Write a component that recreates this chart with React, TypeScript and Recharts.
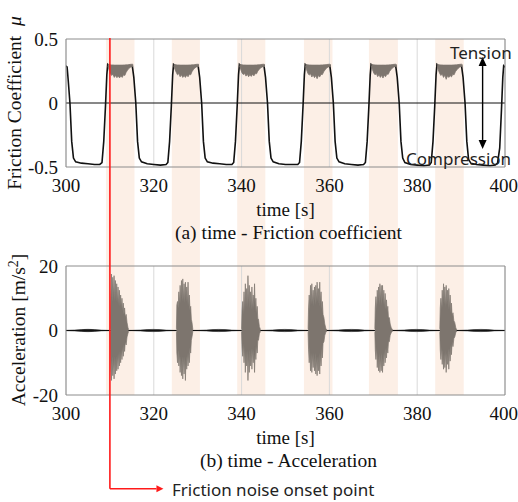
import React from "react";
import {
  ComposedChart,
  Line,
  Area,
  XAxis,
  YAxis,
  CartesianGrid,
  ReferenceArea,
  ReferenceLine,
} from "recharts";

// Two stacked panels: (a) friction coefficient and (b) acceleration over time,
// with the squeal windows shaded and the onset of friction noise marked in red.

const SERIF = '"Liberation Serif", "Times New Roman", serif';
const SANS = '"Noto Sans", "Open Sans", sans-serif';

const INK = "#111111";
const NOISE = "#7d756e";
const BAND = "#fcefe6";
const FRAME = "#8c8c8c";
const RED = "#ff1a1a";

const timeTicks = [300, 320, 340, 360, 380, 400];
const frictionTicks = [-0.5, 0, 0.5];
const accelTicks = [-20, 0, 20];

// shaded squeal windows [start, end] in s
const noiseBands: [number, number][] = [
  [309.1, 315.6],
  [324.1, 330.5],
  [339.0, 345.4],
  [354.2, 360.7],
  [369.0, 375.6],
  [384.1, 390.6],
];

const onsetTime = 310;

// friction coefficient trace [t, mu]
const frictionTrace: [number, number][] = [
  [300.0, 0.29], [300.25, 0.28], [300.5, 0.18], [300.9, 0.0], [301.3, -0.3], [301.7, -0.43],
  [302.2, -0.46], [303.5, -0.47], [305.0, -0.475], [306.5, -0.48], [307.7, -0.48], [308.2, -0.465],
  [308.6, -0.3], [309.0, -0.02], [309.3, 0.22], [309.5, 0.3], [309.8, 0.29], [315.1, 0.29], [315.45, 0.2],
  [315.9, 0.0], [316.3, -0.3], [316.7, -0.43], [317.2, -0.46], [318.5, -0.475], [320.0, -0.48],
  [321.5, -0.485], [322.8, -0.48], [323.2, -0.465], [323.6, -0.3], [324.0, -0.02], [324.3, 0.22],
  [324.5, 0.3], [324.8, 0.29], [330.1, 0.29], [330.45, 0.2],
  [330.9, 0.0], [331.3, -0.3], [331.7, -0.43], [332.2, -0.46], [333.5, -0.47], [335.0, -0.475],
  [336.5, -0.48], [337.8, -0.48], [338.2, -0.465], [338.6, -0.3], [339.0, -0.02], [339.3, 0.22],
  [339.5, 0.3], [339.8, 0.29], [345.1, 0.29], [345.45, 0.2],
  [345.9, 0.0], [346.3, -0.3], [346.7, -0.43], [347.2, -0.46], [348.5, -0.475], [350.0, -0.48],
  [351.5, -0.48], [352.8, -0.48], [353.2, -0.465], [353.6, -0.3], [354.0, -0.02], [354.3, 0.22],
  [354.5, 0.3], [354.8, 0.29], [360.1, 0.29], [360.45, 0.2],
  [360.9, 0.0], [361.3, -0.3], [361.7, -0.43], [362.2, -0.46], [363.5, -0.475], [365.0, -0.48],
  [366.5, -0.485], [367.8, -0.48], [368.2, -0.465], [368.6, -0.3], [369.0, -0.02], [369.3, 0.22],
  [369.5, 0.3], [369.8, 0.29], [375.1, 0.29], [375.45, 0.2],
  [375.9, 0.0], [376.3, -0.3], [376.7, -0.43], [377.2, -0.465], [378.5, -0.48], [380.0, -0.485],
  [381.5, -0.49], [382.8, -0.485], [383.2, -0.465], [383.6, -0.3], [384.0, -0.02], [384.3, 0.22],
  [384.5, 0.3], [384.8, 0.29], [390.1, 0.29], [390.45, 0.2],
  [390.9, 0.0], [391.3, -0.3], [391.7, -0.44], [392.2, -0.47], [393.5, -0.48], [395.0, -0.485],
  [396.5, -0.49], [397.8, -0.485], [398.3, -0.47], [398.8, -0.35], [399.2, -0.05], [399.5, 0.2],
  [399.7, 0.29], [400.0, 0.28],
];

// grey stick-slip noise on the tension plateaus [t, low, high]
const frictionNoise1: [number, number, number][] = [
  [309.55, 0.29, 0.305], [309.8, 0.26, 0.3], [310.1, 0.23, 0.298], [310.4, 0.215, 0.297], [310.7, 0.225, 0.297],
  [311.0, 0.2, 0.296], [311.3, 0.215, 0.296], [311.6, 0.198, 0.296], [311.9, 0.21, 0.296], [312.2, 0.196, 0.296],
  [312.5, 0.212, 0.296], [312.8, 0.2, 0.296], [313.1, 0.22, 0.297], [313.4, 0.215, 0.297], [313.7, 0.24, 0.298],
  [314.0, 0.255, 0.298], [314.3, 0.27, 0.3], [314.7, 0.28, 0.302], [315.1, 0.285, 0.303], [315.3, 0.285, 0.3],
];
const frictionNoise2: [number, number, number][] = [
  [324.55, 0.29, 0.305], [324.8, 0.265, 0.3], [325.1, 0.24, 0.298], [325.4, 0.22, 0.297], [325.7, 0.23, 0.297],
  [326.0, 0.205, 0.296], [326.3, 0.22, 0.296], [326.6, 0.2, 0.296], [326.9, 0.215, 0.296], [327.2, 0.2, 0.296],
  [327.5, 0.218, 0.296], [327.8, 0.205, 0.296], [328.1, 0.225, 0.297], [328.4, 0.22, 0.297], [328.7, 0.245, 0.298],
  [329.0, 0.26, 0.298], [329.3, 0.272, 0.3], [329.7, 0.282, 0.302], [330.1, 0.286, 0.303], [330.3, 0.285, 0.3],
];
const frictionNoise3: [number, number, number][] = [
  [339.55, 0.29, 0.305], [339.8, 0.262, 0.3], [340.1, 0.235, 0.298], [340.4, 0.222, 0.297], [340.7, 0.23, 0.297],
  [341.0, 0.21, 0.296], [341.3, 0.225, 0.296], [341.6, 0.205, 0.296], [341.9, 0.222, 0.296], [342.2, 0.208, 0.296],
  [342.5, 0.225, 0.296], [342.8, 0.212, 0.296], [343.1, 0.23, 0.297], [343.4, 0.228, 0.297], [343.7, 0.25, 0.298],
  [344.0, 0.262, 0.298], [344.3, 0.274, 0.3], [344.7, 0.282, 0.302], [345.1, 0.286, 0.303], [345.3, 0.285, 0.3],
];
const frictionNoise4: [number, number, number][] = [
  [354.55, 0.29, 0.305], [354.8, 0.26, 0.3], [355.1, 0.232, 0.298], [355.4, 0.218, 0.297], [355.7, 0.228, 0.297],
  [356.0, 0.203, 0.296], [356.3, 0.22, 0.296], [356.6, 0.198, 0.296], [356.9, 0.214, 0.296], [357.2, 0.19, 0.296],
  [357.5, 0.214, 0.296], [357.8, 0.204, 0.296], [358.1, 0.224, 0.297], [358.4, 0.222, 0.297], [358.7, 0.244, 0.298],
  [359.0, 0.258, 0.298], [359.3, 0.271, 0.3], [359.7, 0.281, 0.302], [360.1, 0.286, 0.303], [360.3, 0.285, 0.3],
];
const frictionNoise5: [number, number, number][] = [
  [369.55, 0.29, 0.305], [369.8, 0.262, 0.3], [370.1, 0.235, 0.298], [370.4, 0.22, 0.297], [370.7, 0.23, 0.297],
  [371.0, 0.206, 0.296], [371.3, 0.222, 0.296], [371.6, 0.2, 0.296], [371.9, 0.216, 0.296], [372.2, 0.195, 0.296],
  [372.5, 0.216, 0.296], [372.8, 0.206, 0.296], [373.1, 0.226, 0.297], [373.4, 0.224, 0.297], [373.7, 0.246, 0.298],
  [374.0, 0.26, 0.298], [374.3, 0.272, 0.3], [374.7, 0.282, 0.302], [375.1, 0.286, 0.303], [375.3, 0.285, 0.3],
];
const frictionNoise6: [number, number, number][] = [
  [384.55, 0.29, 0.305], [384.8, 0.26, 0.3], [385.1, 0.232, 0.298], [385.4, 0.215, 0.297], [385.7, 0.226, 0.297],
  [386.0, 0.2, 0.296], [386.3, 0.218, 0.296], [386.6, 0.185, 0.296], [386.9, 0.212, 0.296], [387.2, 0.2, 0.296],
  [387.5, 0.214, 0.296], [387.8, 0.204, 0.296], [388.1, 0.224, 0.297], [388.4, 0.22, 0.297], [388.7, 0.244, 0.298],
  [389.0, 0.258, 0.298], [389.3, 0.27, 0.3], [389.7, 0.281, 0.302], [390.1, 0.286, 0.303], [390.3, 0.285, 0.3],
];
const frictionNoise = [frictionNoise1, frictionNoise2, frictionNoise3, frictionNoise4, frictionNoise5, frictionNoise6];

// acceleration: zero baseline, quiet low-level vibration, and squeal bursts [t, low, high]
const accelBaseline: [number, number][] = [
  [300, 0],
  [400, 0],
];

const accelQuiet: [number, number, number][] = [
  [300, -0.05, 0.05], [302, -0.15, 0.15], [303.5, -0.28, 0.28], [305, -0.36, 0.36], [306.5, -0.28, 0.28], [308, -0.12, 0.12], [309.5, -0.05, 0.05],
  [315, -0.05, 0.05], [317, -0.15, 0.15], [318.5, -0.28, 0.28], [319.8, -0.34, 0.34], [321.2, -0.28, 0.28], [322.8, -0.12, 0.12], [324.5, -0.05, 0.05],
  [330, -0.05, 0.05], [332, -0.15, 0.15], [333.5, -0.28, 0.28], [334.8, -0.34, 0.34], [336.2, -0.28, 0.28], [337.8, -0.12, 0.12], [339.5, -0.05, 0.05],
  [345, -0.05, 0.05], [347, -0.15, 0.15], [348.5, -0.28, 0.28], [349.8, -0.34, 0.34], [351.2, -0.28, 0.28], [352.8, -0.12, 0.12], [354.5, -0.05, 0.05],
  [360, -0.05, 0.05], [362, -0.15, 0.15], [363.5, -0.28, 0.28], [365, -0.34, 0.34], [366.5, -0.28, 0.28], [368, -0.12, 0.12], [369.8, -0.05, 0.05],
  [375, -0.05, 0.05], [377, -0.15, 0.15], [378.5, -0.28, 0.28], [379.8, -0.34, 0.34], [381.2, -0.28, 0.28], [382.8, -0.12, 0.12], [384.6, -0.05, 0.05],
  [389.5, -0.05, 0.05], [391.5, -0.15, 0.15], [393, -0.28, 0.28], [394.5, -0.34, 0.34], [396, -0.28, 0.28], [397.5, -0.12, 0.12], [400, -0.05, 0.05],
];

const burst1: [number, number, number][] = [
  [310.1, -0.5, 0.5], [310.2, -12, 10], [310.35, -15.5, 17.5], [310.5, -8, 9], [310.65, -14, 16.5], [310.8, -9, 10],
  [310.95, -15, 17], [311.1, -8, 9], [311.25, -13.5, 15.5], [311.4, -8, 9], [311.55, -12.5, 14.5], [311.7, -7.5, 8.5],
  [311.85, -12, 13.5], [312.0, -7, 8], [312.15, -11, 12.5], [312.3, -6.5, 7.5], [312.45, -10, 11], [312.6, -6, 7],
  [312.75, -9, 10], [312.9, -5, 6], [313.05, -8, 8.5], [313.2, -4.5, 5], [313.35, -6.5, 7], [313.5, -3.5, 4],
  [313.7, -4.5, 5], [313.9, -2, 2.5], [314.1, -1, 1], [314.25, -0.3, 0.3],
];
const burst2: [number, number, number][] = [
  [325.15, -0.5, 0.5], [325.25, -7, 8], [325.4, -10, 9], [325.55, -6, 7], [325.7, -11, 12], [325.85, -7, 8],
  [326.0, -13, 14], [326.15, -8, 8.5], [326.3, -14, 15.5], [326.45, -8, 9], [326.6, -15, 16], [326.75, -8, 9],
  [326.9, -13.5, 14.5], [327.05, -8, 8.5], [327.2, -15.5, 15], [327.35, -8, 9], [327.5, -12, 13.5], [327.65, -7, 8],
  [327.8, -11, 15], [327.95, -7, 7.5], [328.1, -10, 11], [328.25, -5, 6], [328.4, -7, 7.5], [328.55, -3, 3.5],
  [328.7, -2, 2.5], [328.9, -0.3, 0.3],
];
const burst3: [number, number, number][] = [
  [340.0, -0.5, 0.5], [340.1, -5, 6], [340.25, -8, 9], [340.4, -4, 5], [340.55, -10, 12], [340.7, -5, 6],
  [340.85, -13, 14.5], [341.0, -6, 7], [341.15, -11, 13], [341.3, -6, 7], [341.45, -15.5, 17], [341.6, -7, 8],
  [341.75, -13, 14], [341.9, -6, 7], [342.05, -11, 12], [342.2, -5.5, 6.5], [342.35, -12, 13.5], [342.5, -5.5, 6.5],
  [342.65, -10, 11], [342.8, -6, 7], [342.95, -13, 14.5], [343.1, -5, 6], [343.25, -9, 10], [343.4, -4.5, 5],
  [343.55, -7, 7.5], [343.7, -3, 3.5], [343.85, -3, 3.5], [344.05, -1, 1.2], [344.3, -0.3, 0.3],
];
const burst4: [number, number, number][] = [
  [355.15, -0.5, 0.5], [355.25, -6, 7], [355.4, -10, 11], [355.55, -5, 6], [355.7, -12.5, 14], [355.85, -7, 8],
  [356.0, -13, 14.5], [356.15, -7, 8], [356.3, -11.5, 12.5], [356.45, -7, 7.5], [356.6, -12.5, 13.5], [356.75, -7, 8],
  [356.9, -13.5, 14], [357.05, -8, 8.5], [357.2, -14, 15], [357.35, -8, 9], [357.5, -12.5, 13], [357.65, -7, 7.5],
  [357.8, -13.5, 15], [357.95, -7, 8], [358.1, -11, 12], [358.25, -5.5, 6.5], [358.4, -8.5, 9], [358.55, -4, 5],
  [358.75, -3.5, 4], [358.95, -1.5, 2], [359.2, -0.5, 0.6], [359.4, -0.2, 0.2],
];
const burst5: [number, number, number][] = [
  [370.35, -0.5, 0.5], [370.45, -6, 7], [370.6, -9, 10.5], [370.75, -5, 6], [370.9, -11.5, 12.5], [371.05, -7, 8],
  [371.2, -12.5, 13.5], [371.35, -7, 8], [371.5, -13, 14.5], [371.65, -8, 9], [371.8, -12.5, 14], [371.95, -7, 8],
  [372.1, -13, 14], [372.25, -7, 8], [372.4, -11, 12.5], [372.55, -6, 7], [372.7, -10, 11.5], [372.85, -5.5, 6.5],
  [373.0, -8.5, 9.5], [373.15, -4.5, 5.5], [373.3, -7, 7.5], [373.45, -3.5, 4], [373.65, -3.5, 4], [373.85, -1.5, 2],
  [374.1, -0.6, 0.8], [374.4, -0.2, 0.2],
];
const burst6: [number, number, number][] = [
  [385.15, -0.5, 0.5], [385.25, -6, 7], [385.4, -9, 10], [385.55, -5, 6.5], [385.7, -10.5, 12.5], [385.85, -6, 7],
  [386.0, -12, 14.5], [386.15, -7, 8], [386.3, -11.5, 13.5], [386.45, -6, 7], [386.6, -13, 14], [386.75, -7, 8],
  [386.9, -10.5, 12.5], [387.05, -5.5, 6.5], [387.2, -12, 13], [387.35, -5.5, 6.5], [387.5, -9.5, 11], [387.65, -4.5, 5.5],
  [387.8, -7.5, 8.5], [387.95, -3.5, 4.5], [388.15, -5, 5.5], [388.35, -2.5, 3], [388.55, -2, 2.5], [388.8, -0.6, 0.8],
  [389.0, -0.2, 0.2],
];
const accelBursts = [burst1, burst2, burst3, burst4, burst5, burst6];

const toLine = (rows: [number, number][]) => rows.map(([t, v]) => ({ t, v }));
const toRange = (rows: [number, number, number][]) => rows.map(([t, lo, hi]) => ({ t, v: [lo, hi] }));

const tickStyle = { fontSize: 19, fill: INK, fontFamily: SERIF };

// vertical double arrow between "Tension" and "Compression"
function DoubleArrow(p: any) {
  const x = p.x1;
  const top = Math.min(p.y1, p.y2);
  const bot = Math.max(p.y1, p.y2);
  const h = 9;
  const w = 4;
  return (
    <g>
      <line x1={x} y1={top + h} x2={x} y2={bot - h} stroke="#000" strokeWidth={1.4} />
      <path d={`M${x},${top} L${x - w},${top + h} L${x + w},${top + h} Z`} fill="#000" />
      <path d={`M${x},${bot} L${x - w},${bot - h} L${x + w},${bot - h} Z`} fill="#000" />
    </g>
  );
}

// red leader ending in an arrowhead pointing right
function RedArrow(p: any) {
  const tip = Math.max(p.x1, p.x2);
  const y = p.y1;
  const h = 7;
  const w = 3.5;
  return (
    <g>
      <line x1={Math.min(p.x1, p.x2)} y1={y} x2={tip - h} y2={y} stroke={RED} strokeWidth={1.5} />
      <path d={`M${tip},${y} L${tip - h},${y - w} L${tip - h},${y + w} Z`} fill={RED} />
    </g>
  );
}

const textBase: React.CSSProperties = {
  position: "absolute",
  whiteSpace: "nowrap",
  color: INK,
  lineHeight: "18px",
};

export default function App() {
  return (
    <div
      style={{
        position: "absolute",
        left: 0,
        top: 0,
        width: 518,
        height: 502,
        background: "#fff",
        overflow: "hidden",
      }}
    >
      {/* (a) friction coefficient, also carries the shaded windows across both panels */}
      <div style={{ position: "absolute", left: 0, top: 0 }}>
        <ComposedChart width={518} height={502} margin={{ top: 39, right: 13, bottom: 305, left: 0 }}>
          {noiseBands.map(([a, b]) => (
            <ReferenceArea
              key={a}
              x1={a}
              x2={b}
              y1={-2.281}
              y2={0.5}
              ifOverflow="visible"
              fill={BAND}
              fillOpacity={1}
              stroke="none"
              zIndex={-150}
            />
          ))}
          <CartesianGrid horizontal={false} stroke="#d9d9d9" />
          <XAxis
            dataKey="t"
            type="number"
            domain={[300, 400]}
            ticks={timeTicks}
            allowDataOverflow
            axisLine={false}
            tickLine={false}
            tickSize={0}
            tickMargin={12}
            height={30}
            tick={tickStyle}
          />
          <YAxis
            type="number"
            domain={[-0.5, 0.5]}
            ticks={frictionTicks}
            allowDataOverflow
            axisLine={false}
            tickLine={false}
            tickSize={0}
            tickMargin={8}
            width={66}
            tick={tickStyle}
          />
          <ReferenceLine y={0} stroke={INK} strokeWidth={1} />
          <Line
            data={toLine(frictionTrace)}
            dataKey="v"
            type="linear"
            stroke={INK}
            strokeWidth={1.6}
            dot={false}
            isAnimationActive={false}
          />
          {frictionNoise.map((rows, i) => (
            <Area
              key={i}
              data={toRange(rows)}
              dataKey="v"
              type="linear"
              stroke={NOISE}
              strokeWidth={0.8}
              fill={NOISE}
              fillOpacity={1}
              dot={false}
              activeDot={false}
              isAnimationActive={false}
              zIndex={450}
            />
          ))}
          <ReferenceArea
            x1={300}
            x2={400}
            y1={-0.5}
            y2={0.5}
            fill="none"
            stroke={FRAME}
            strokeWidth={1}
            zIndex={460}
          />
          <ReferenceLine
            segment={[
              { x: 394.9, y: 0.359 },
              { x: 394.9, y: -0.359 },
            ]}
            ifOverflow="visible"
            shape={DoubleArrow}
            zIndex={470}
          />
        </ComposedChart>
      </div>

      {/* (b) acceleration, also carries the onset marker */}
      <div style={{ position: "absolute", left: 0, top: 0 }}>
        <ComposedChart width={518} height={502} margin={{ top: 266, right: 13, bottom: 77, left: 0 }}>
          <CartesianGrid horizontal={false} stroke="#d9d9d9" />
          <XAxis
            dataKey="t"
            type="number"
            domain={[300, 400]}
            ticks={timeTicks}
            allowDataOverflow
            axisLine={false}
            tickLine={false}
            tickSize={0}
            tickMargin={12}
            height={30}
            tick={tickStyle}
          />
          <YAxis
            type="number"
            domain={[-20, 20]}
            ticks={accelTicks}
            allowDataOverflow
            axisLine={false}
            tickLine={false}
            tickSize={0}
            tickMargin={8}
            width={66}
            tick={tickStyle}
          />
          <Line
            data={toLine(accelBaseline)}
            dataKey="v"
            type="linear"
            stroke={INK}
            strokeWidth={1.1}
            dot={false}
            isAnimationActive={false}
          />
          <Area
            data={toRange(accelQuiet)}
            dataKey="v"
            type="monotone"
            stroke={INK}
            strokeWidth={0.5}
            fill={INK}
            fillOpacity={1}
            dot={false}
            activeDot={false}
            isAnimationActive={false}
            zIndex={420}
          />
          {accelBursts.map((rows, i) => (
            <Area
              key={i}
              data={toRange(rows)}
              dataKey="v"
              type="linear"
              stroke={NOISE}
              strokeWidth={0.7}
              fill={NOISE}
              fillOpacity={1}
              dot={false}
              activeDot={false}
              isAnimationActive={false}
              zIndex={450}
            />
          ))}
          <ReferenceArea
            x1={300}
            x2={400}
            y1={-20}
            y2={20}
            fill="none"
            stroke={FRAME}
            strokeWidth={1}
            zIndex={460}
          />
          <ReferenceLine
            segment={[
              { x: onsetTime, y: 90.7 },
              { x: onsetTime, y: -49.1 },
            ]}
            ifOverflow="visible"
            stroke={RED}
            strokeWidth={1.6}
            zIndex={480}
          />
          <ReferenceLine
            segment={[
              { x: onsetTime, y: -49.1 },
              { x: 322.2, y: -49.1 },
            ]}
            ifOverflow="visible"
            shape={RedArrow}
            zIndex={480}
          />
        </ComposedChart>
      </div>

      <div
        style={{
          ...textBase,
          left: 15,
          top: 103,
          font: `19.5px ${SERIF}`,
          transform: "translate(-50%, -50%) rotate(-90deg)",
        }}
      >
        Friction Coefficient&nbsp;&nbsp;<i>μ</i>
      </div>
      <div
        style={{
          ...textBase,
          left: 19,
          top: 330,
          font: `19.5px ${SERIF}`,
          transform: "translate(-50%, -50%) rotate(-90deg)",
        }}
      >
        Acceleration [m/s<sup style={{ fontSize: 14, lineHeight: 0 }}>2</sup>]
      </div>

      <div style={{ ...textBase, left: 66, width: 439, top: 199, textAlign: "center", font: `19px ${SERIF}` }}>
        time [s]
      </div>
      <div style={{ ...textBase, left: 66, width: 445, top: 222, textAlign: "center", font: `19.5px ${SERIF}` }}>
        (a) time - Friction coefficient
      </div>
      <div style={{ ...textBase, left: 66, width: 439, top: 427, textAlign: "center", font: `19px ${SERIF}` }}>
        time [s]
      </div>
      <div style={{ ...textBase, left: 66, width: 445, top: 450, textAlign: "center", font: `19.5px ${SERIF}` }}>
        (b) time - Acceleration
      </div>

      <div style={{ ...textBase, left: 450, top: 41, font: `17px ${SANS}`, color: "#222" }}>Tension</div>
      <div style={{ ...textBase, left: 406, top: 147, font: `17px ${SANS}`, color: "#222" }}>Compression</div>
      <div style={{ ...textBase, left: 172, top: 478, font: `17px ${SANS}`, color: "#222" }}>
        Friction noise onset point
      </div>
    </div>
  );
}
